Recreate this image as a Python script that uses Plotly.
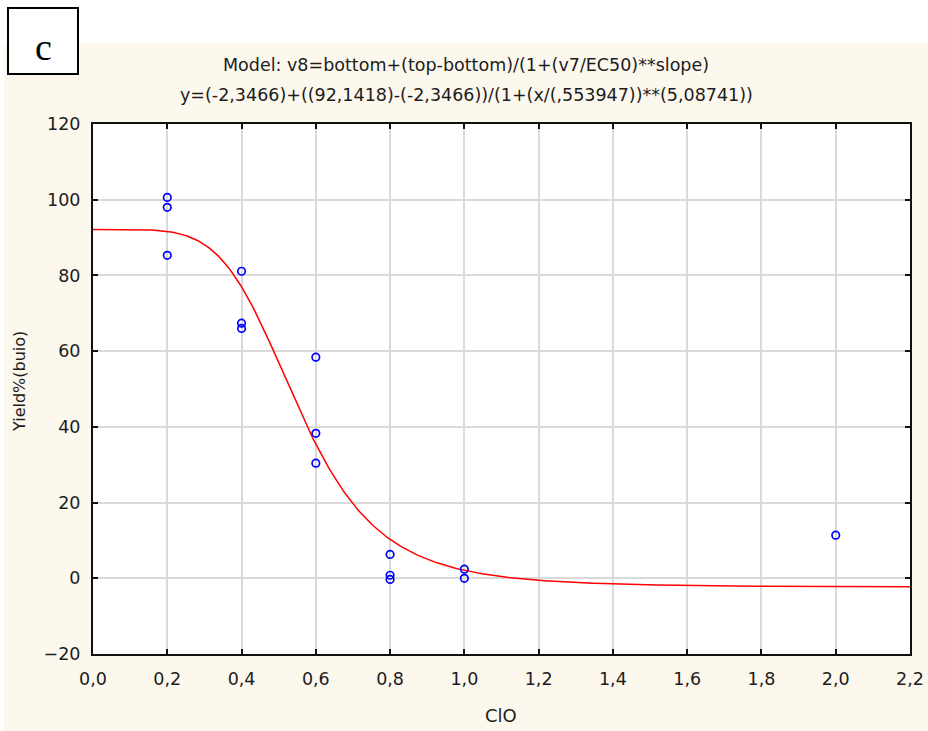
import numpy as np
import plotly.graph_objects as go

# Observed yields at each ClO level
clo = [0.2, 0.2, 0.2, 0.4, 0.4, 0.4, 0.6, 0.6, 0.6, 0.8, 0.8, 0.8, 1.0, 1.0, 2.0]
yield_buio = [100.6, 98.0, 85.3, 81.1, 67.4, 66.0, 58.4, 38.3, 30.4, 6.3, 0.8, -0.3, 2.4, 0.0, 11.4]

# Fitted logistic model parameters
bottom = -2.3466
top = 92.1418
ec50 = 0.553947
slope = 5.08741

x_ticks = [0.0, 0.2, 0.4, 0.6, 0.8, 1.0, 1.2, 1.4, 1.6, 1.8, 2.0, 2.2]
y_ticks = [-20, 0, 20, 40, 60, 80, 100, 120]

x_fit = np.linspace(0.0, 2.2, 400)
y_fit = bottom + (top - bottom) / (1 + (x_fit / ec50) ** slope)

W, H = 928, 731
L, R, T, B = 93, 910, 124, 654


def px(x):
    return (x - L) / (R - L)


def py(y):
    return (B - y) / (B - T)


fig = go.Figure()
fig.add_trace(go.Scatter(
    x=x_fit, y=y_fit, mode="lines",
    line=dict(color="#ff0000", width=1.5),
    hoverinfo="skip", showlegend=False,
))
fig.add_trace(go.Scatter(
    x=clo, y=yield_buio, mode="markers",
    marker=dict(symbol="circle-open", size=7.5, color="#0000ff",
                line=dict(width=1.7, color="#0000ff")),
    showlegend=False,
))

tick_font = dict(family="DejaVu Sans", size=17.5, color="#1c1c1c")

fig.update_xaxes(
    range=[0, 2.2], tickvals=x_ticks, tickformat=".1f", automargin=False,
    showgrid=True, gridcolor="#dadada", gridwidth=1.5,
    showline=True, linecolor="#111111", linewidth=2, mirror="ticks",
    ticks="inside", ticklen=5, tickwidth=1.5, tickcolor="#111111",
    tickfont=tick_font, zeroline=False, ticklabelstandoff=8,
)
fig.update_yaxes(
    range=[-20, 120], tickvals=y_ticks, automargin=False,
    showgrid=True, gridcolor="#dadada", gridwidth=1.5,
    showline=True, linecolor="#111111", linewidth=2, mirror="ticks",
    ticks="inside", ticklen=5, tickwidth=1.5, tickcolor="#111111",
    tickfont=tick_font, zeroline=False, ticklabelstandoff=7,
)

shapes = [
    # white strips framing the cream panel
    dict(type="rect", xref="paper", yref="paper",
         x0=px(-50), x1=px(W + 50), y0=py(43), y1=py(-50),
         fillcolor="white", line=dict(width=0), layer="above"),
    dict(type="rect", xref="paper", yref="paper",
         x0=px(-50), x1=px(4), y0=py(H + 50), y1=py(-50),
         fillcolor="white", line=dict(width=0), layer="above"),
    # panel label box
    dict(type="rect", xref="paper", yref="paper",
         x0=px(8), x1=px(78), y0=py(74), y1=py(8),
         fillcolor="white", line=dict(color="black", width=2), layer="above"),
]

title_font = dict(family="DejaVu Sans", size=17.5, color="#1c1c1c")

annotations = [
    dict(text="c", xref="paper", yref="paper", x=px(43), y=py(47),
         xanchor="center", yanchor="middle", showarrow=False,
         font=dict(family="Liberation Serif", size=38, color="black")),
    dict(text="Model: v8=bottom+(top-bottom)/(1+(v7/EC50)**slope)",
         xref="paper", yref="paper", x=px(466), y=py(65),
         xanchor="center", yanchor="middle", showarrow=False,
         font=title_font),
    dict(text="y=(-2,3466)+((92,1418)-(-2,3466))/(1+(x/(,553947))**(5,08741))",
         xref="paper", yref="paper", x=px(466), y=py(95),
         xanchor="center", yanchor="middle", showarrow=False,
         font=title_font),
    dict(text="ClO", xref="paper", yref="paper", x=px(501), y=py(715),
         xanchor="center", yanchor="middle", showarrow=False,
         font=dict(family="DejaVu Sans", size=18, color="#1c1c1c")),
    dict(text="Yield%(buio)", xref="paper", yref="paper", x=px(19), y=py(382),
         xanchor="center", yanchor="middle", showarrow=False, textangle=-90,
         font=dict(family="DejaVu Sans", size=16, color="#1c1c1c")),
]

fig.update_layout(
    template="none",
    width=W, height=H,
    margin=dict(l=L, r=W - R, t=T, b=H - B, pad=0),
    paper_bgcolor="#fcf8ee", plot_bgcolor="white",
    separators=",.",
    shapes=shapes, annotations=annotations,
    showlegend=False,
)

fig.write_html("out.html")
